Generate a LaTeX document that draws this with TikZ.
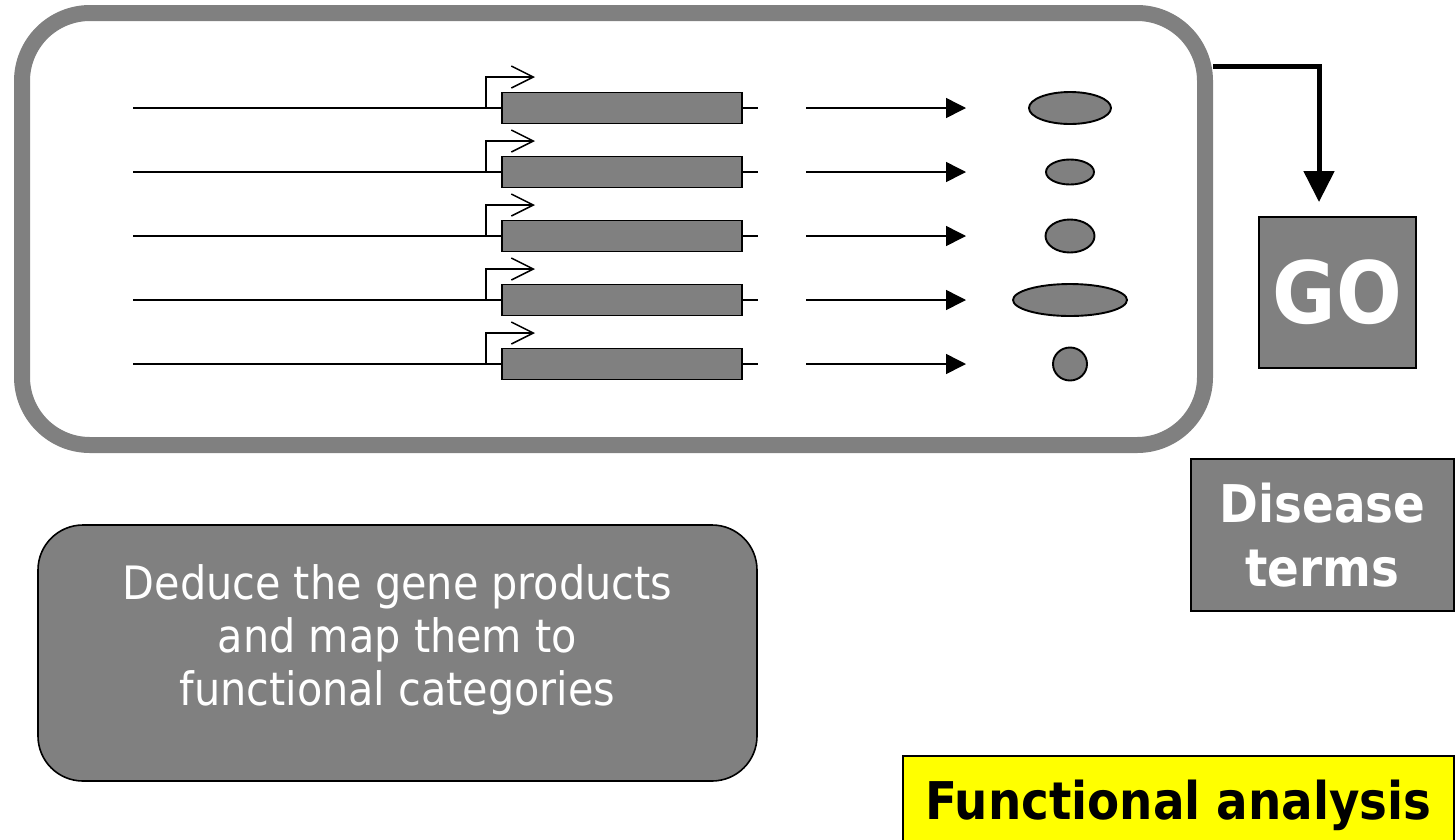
\documentclass[tikz,border=0pt]{standalone}
\usepackage{fontspec}
\setmainfont{DejaVu Sans Condensed}
\usetikzlibrary{positioning,arrows.meta,shapes.geometric}
\definecolor{boxgray}{RGB}{128,128,128}
\definecolor{hiyellow}{RGB}{255,255,0}
\tikzset{
dna/.style={line width=1.5pt},
gene/.style={draw=black, fill=boxgray, line width=1.9pt, minimum width=240pt, minimum height=31pt, inner sep=0pt},
product/.style={draw=black, fill=boxgray, ellipse, line width=1.9pt, inner sep=0pt},
termbox/.style={draw=black, fill=boxgray, line width=1.6pt, text=white, font=\bfseries, align=center, inner sep=0pt}
}
\newcommand{\bigfont}[2]{\fontsize{#1}{#2}\selectfont}

\begin{document}
\begin{tikzpicture}[x=1pt,y=-1pt]
\useasboundingbox (0,0) rectangle (1455,839);
\clip (0,0) rectangle (1455,839);

% frame round the genes
\draw[boxgray, line width=16pt, rounded corners=68pt] (22,13) rectangle (1205,445);

% one row per gene: dna, promoter, gene, arrow, product
\foreach \y/\rx/\ry [count=\i] in {108/41/16, 172/24/12.5, 236/24.5/16.5, 300/57/16, 364/17/16.5}{
  \node[gene] (g\i) at (622,\y) {};
  \coordinate (s\i) at (133,\y);
  \coordinate (e\i) at (758,\y);
  \draw[dna] (s\i) -- (g\i.west);
  \draw[dna] (g\i.east) -- (e\i);
  \coordinate (p\i) at (486,\y);
  \draw[dna, -{Straight Barb[length=22pt, width=22pt]}] (p\i) -- ++(0,-31) -- ++(49,0);
  \coordinate (a\i) at (806,\y);
  \coordinate (b\i) at (966,\y);
  \draw[dna, -{Triangle[length=20pt, width=20pt]}] (a\i) -- (b\i);
  \node[product, minimum width={2*\rx pt}, minimum height={2*\ry pt}] (q\i) at (1070,\y) {};
}

% annotation boxes
\node[termbox, minimum width=157pt, minimum height=151pt, font=\bfseries\bigfont{86}{100}] (go) at (1337.5,292.5) {GO};
\node[termbox, minimum width=263pt, minimum height=152pt, font=\bfseries\bigfont{52}{64}] (dis) at (1322.5,535) {Disease\\terms};

\coordinate (frameR) at (1213,66);
\coordinate (gotip) at (1319,202);
\draw[line width=5pt, -{Triangle[length=31pt, width=30pt]}] (frameR) -| (gotip);

\node[draw=black, fill=boxgray, rounded corners=45pt, line width=1.6pt, minimum width=719pt, minimum height=256pt] (deduce) at (397.5,653) {};
\node[text=white, align=center, font=\bigfont{46}{53}] (deducetxt) at ([yshift=13pt]deduce.center) {Deduce the gene products\\and map them to\\functional categories};

\node[draw=black, fill=hiyellow, line width=1.8pt, minimum width=551pt, minimum height=88pt, text depth=0pt, font=\bfseries\bigfont{52}{60}] (fa) at (1178.5,800) {Functional analysis};
\end{tikzpicture}
\end{document}
